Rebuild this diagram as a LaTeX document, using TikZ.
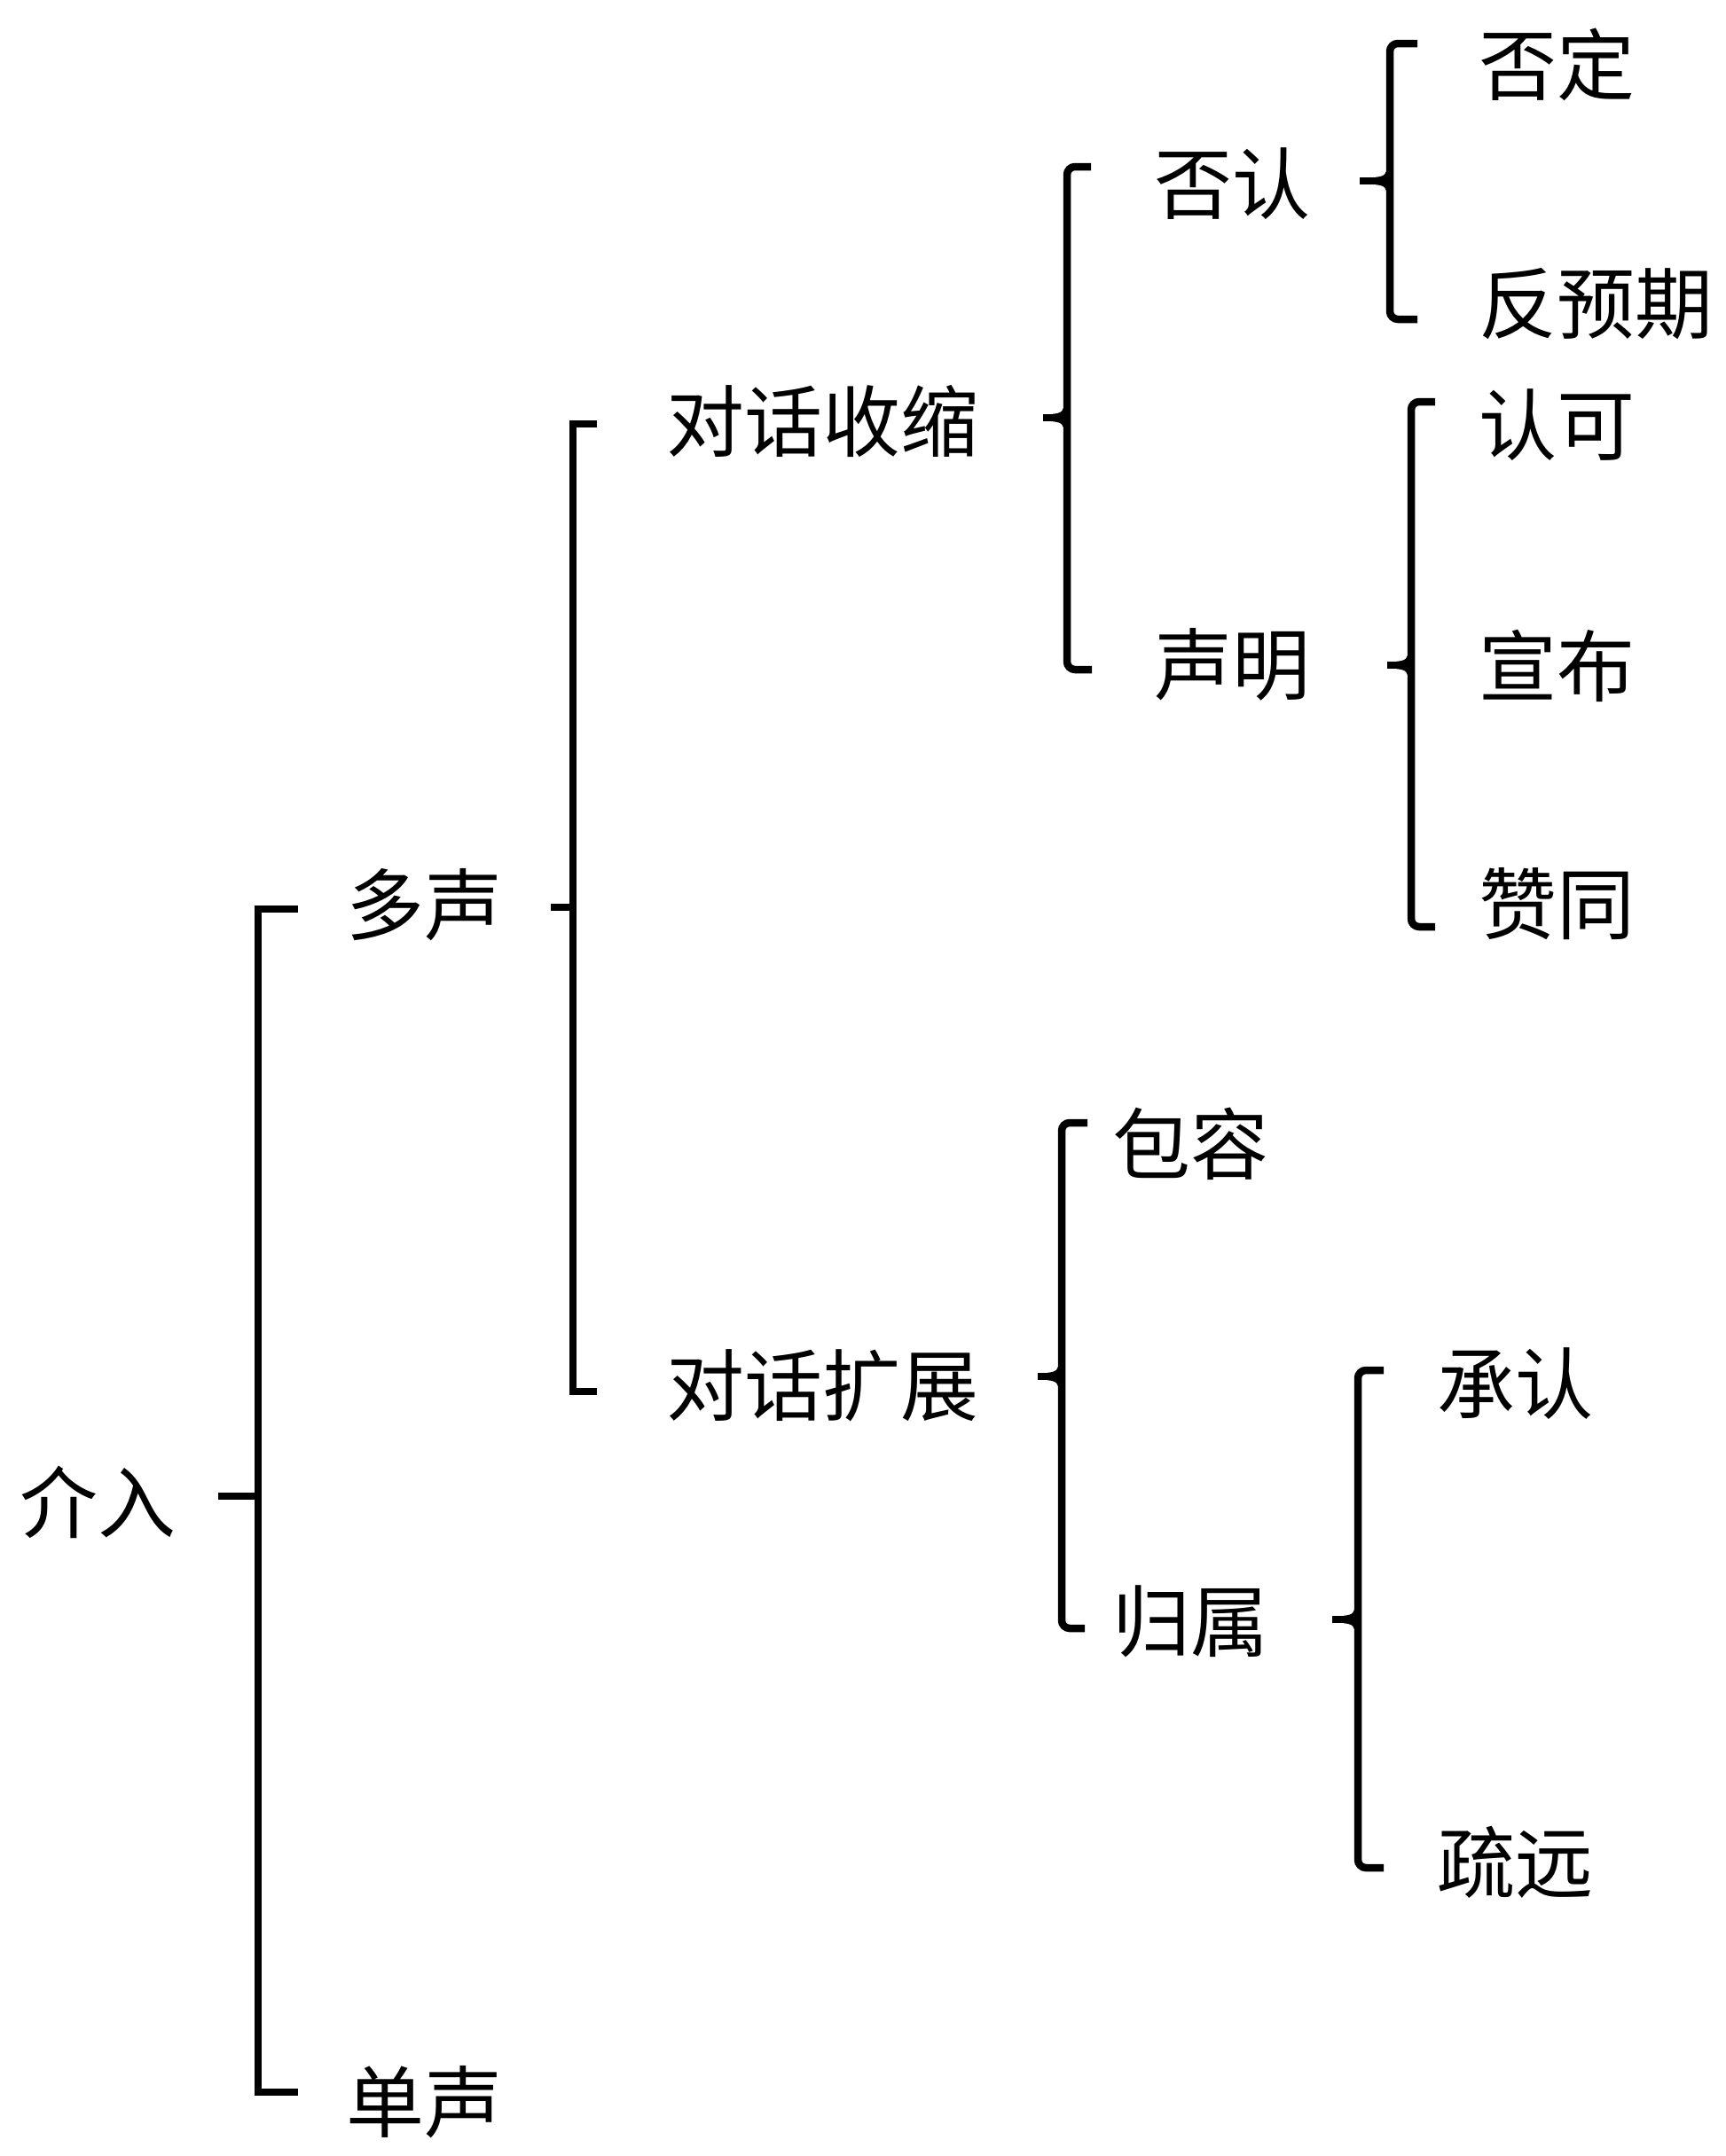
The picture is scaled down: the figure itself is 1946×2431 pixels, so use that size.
\documentclass[tikz,border=0pt]{standalone}
\usepackage{fontspec}
\newfontfamily\cjk{Noto Sans CJK SC}
\begin{document}
\begin{tikzpicture}[x=1pt,y=-1pt,
  lbl/.style={anchor=west,inner sep=0pt,font=\cjk\fontsize{88}{100}\selectfont},
  sqbr/.style={line width=8.5pt,line join=miter},
  cbr/.style={line width=8.5pt,rounded corners=9pt}]
\useasboundingbox[fill=white] (0,0) rectangle (1946,2431);
% labels
\node[lbl] (jieru)  at (22,1694)   {介入};
\node[lbl] (duo)    at (390,1020)  {多声};
\node[lbl] (dan)    at (390,2370)  {单声};
\node[lbl] (shou)   at (751,475)   {对话收缩};
\node[lbl] (kuo)    at (751,1562)  {对话扩展};
\node[lbl] (fouren) at (1301,207)  {否认};
\node[lbl] (sheng)  at (1301,749)  {声明};
\node[lbl] (baorong) at (1254,1290) {包容};
\node[lbl] (guishu) at (1254,1828) {归属};
\node[lbl] (fouding) at (1667,73)  {否定};
\node[lbl] (fan)    at (1667,343)  {反预期};
\node[lbl] (renke)  at (1667,479)  {认可};
\node[lbl] (xuanbu) at (1667,751)  {宣布};
\node[lbl] (zan)    at (1667,1019) {赞同};
\node[lbl] (cheng)  at (1620,1560) {承认};
\node[lbl] (shuyuan) at (1620,2100) {疏远};
% bracket points (named)
\coordinate (b1m) at (246,1687);  \coordinate (b1v) at (291,1687);
\coordinate (b1t) at (336,1025);  \coordinate (b1b) at (336,2359);
\coordinate (b2m) at (621,1023);  \coordinate (b2v) at (646,1023);
\coordinate (b2t) at (673,478);   \coordinate (b2b) at (673,1569);
\coordinate (b3m) at (1176,471);  \coordinate (b3v) at (1203,471);
\coordinate (b3t) at (1230,188);  \coordinate (b3b) at (1231,755);
\coordinate (b4m) at (1170,1552); \coordinate (b4v) at (1197,1552);
\coordinate (b4t) at (1226,1266); \coordinate (b4b) at (1223,1836);
\coordinate (b5m) at (1533,204);  \coordinate (b5v) at (1567,204);
\coordinate (b5t) at (1598,49);   \coordinate (b5b) at (1598,360);
\coordinate (b6m) at (1564,750);  \coordinate (b6v) at (1591,750);
\coordinate (b6t) at (1618,453);  \coordinate (b6b) at (1618,1045);
\coordinate (b7m) at (1502,1826); \coordinate (b7v) at (1531,1826);
\coordinate (b7t) at (1560,1545); \coordinate (b7b) at (1560,2106);
% square brackets
\draw[sqbr] (b1m) -- (b1v);
\draw[sqbr] (b1t) -- (b1v |- b1t) -- (b1v |- b1b) -- (b1b);
\draw[sqbr] (b2m) -- (b2v);
\draw[sqbr] (b2t) -- (b2v |- b2t) -- (b2v |- b2b) -- (b2b);
% curly-style brackets
\foreach \b in {b3,b4,b5,b6,b7}{
  \draw[line width=8.5pt] (\b m) -- ([xshift=-10pt]\b v);
  \fill ([shift={(-16pt,-4.25pt)}]\b v) .. controls ([shift={(-6pt,-5pt)}]\b v) and ([shift={(-3pt,-8pt)}]\b v) .. ([shift={(-3pt,-18pt)}]\b v)
     -- ([shift={(0pt,-18pt)}]\b v) -- ([shift={(0pt,18pt)}]\b v) -- ([shift={(-3pt,18pt)}]\b v)
     .. controls ([shift={(-3pt,8pt)}]\b v) and ([shift={(-6pt,5pt)}]\b v) .. ([shift={(-16pt,4.25pt)}]\b v) -- cycle;
  \draw[cbr] (\b t) -- (\b v |- \b t) -- (\b v |- \b b) -- (\b b);
}
\end{tikzpicture}
\end{document}
